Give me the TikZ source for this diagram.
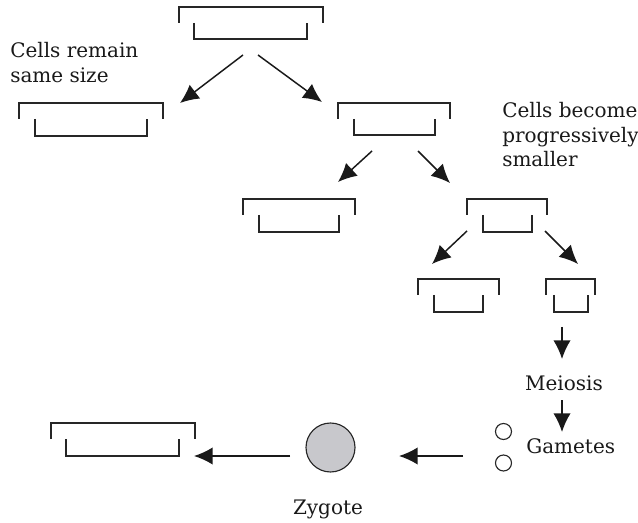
\documentclass[tikz,border=0pt]{standalone}
\usepackage{fontspec}
\setmainfont{DejaVu Serif}
\usetikzlibrary{arrows.meta}
\newcommand\mycell[6]{% xl, xr, inset left, inset right, ytop, ybottom
  \draw[cellline] (#1,#5+16) -- (#1,#5) -- (#2,#5) -- (#2,#5+16);
  \draw[cellline] ({#1+#3},#5+16) -- ({#1+#3},#6) -- ({#2-#4},#6) -- ({#2-#4},#5+16);
}
\tikzset{
  cellline/.style={line width=0.85pt, black!85},
  arr/.style={line width=1.1pt, black!90, -{Latex[length=14pt,width=13pt]}},
  lbl/.style={font=\fontsize{15pt}{18pt}\selectfont, anchor=base west, inner sep=0pt, text=black!90},
  lblc/.style={font=\fontsize{15pt}{18pt}\selectfont, anchor=base, inner sep=0pt, text=black!90},
}
\begin{document}
\begin{tikzpicture}[x=0.75pt,y=-0.75pt]
\useasboundingbox (0,0) rectangle (638,523);
% cells
\mycell{179}{323}{15}{16}{7}{39}
\mycell{19}{163}{16}{16}{103}{136}
\mycell{338}{450}{16}{15}{103}{135}
\mycell{243}{355}{16}{16}{199}{232}
\mycell{467}{547}{16}{15}{199}{232}
\mycell{418}{499}{16}{16}{279}{312}
\mycell{546}{595}{8}{7}{279}{312}
\mycell{51}{195}{15}{16}{423}{456}
% labels
\node[lbl] (t1) at (10,58) {Cells remain};
\node[lbl] (t2) at (10,83) {same size};
\node[lbl] (t3) at (502,118) {Cells become};
\node[lbl] (t4) at (502,143) {progressively};
\node[lbl] (t5) at (502,167) {smaller};
\node[lblc] (meiosis) at (564,390) {Meiosis};
\node[lbl] (gametes) at (526,453) {Gametes};
\node[lblc] (zyglbl) at (328,514) {Zygote};
% zygote and gametes
\node[circle, draw=black!85, line width=0.85pt, fill={rgb,255:red,200;green,200;blue,204}, minimum size=49pt*0.75, inner sep=0pt] (zygote) at (330.5,447.5) {};
\node[circle, draw=black!85, line width=0.85pt, minimum size=16pt*0.75, inner sep=0pt] (g1) at (503.5,431.5) {};
\node[circle, draw=black!85, line width=0.85pt, minimum size=16pt*0.75, inner sep=0pt] (g2) at (503.5,463) {};
% arrow end coordinates
\coordinate (a1s) at (243,55); \coordinate (a1e) at (180,103);
\coordinate (a2s) at (258,55); \coordinate (a2e) at (322,102);
\coordinate (a3s) at (372,151); \coordinate (a3e) at (338,182);
\coordinate (a4s) at (418,151); \coordinate (a4e) at (450,183);
\coordinate (a5s) at (467,231); \coordinate (a5e) at (432,264);
\coordinate (a6s) at (545,231); \coordinate (a6e) at (578,264);
\coordinate (a7s) at (562,327); \coordinate (a7e) at (562,359);
\coordinate (a8s) at (562,400); \coordinate (a8e) at (562,432);
\coordinate (a9s) at (463,456); \coordinate (a9e) at (399,456);
\coordinate (a10s) at (290,456); \coordinate (a10e) at (194,456);
\foreach \i in {1,...,10} \draw[arr] (a\i s) -- (a\i e);
\end{tikzpicture}
\end{document}
